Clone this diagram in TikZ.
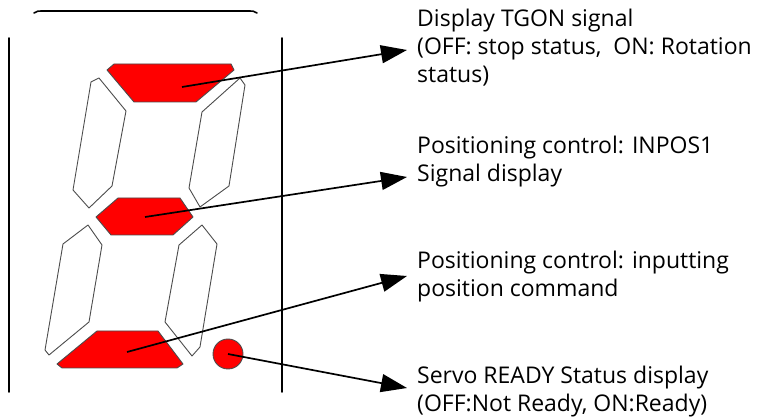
\documentclass[tikz,border=0pt]{standalone}
\usepackage{fontspec}
\setmainfont{Open Sans}
\usetikzlibrary{arrows.meta}
\begin{document}
\begin{tikzpicture}[x=1pt,y=-1pt,
  seg/.style={draw=black!70,line width=0.9pt,line join=round,fill=white},
  lit/.style={draw=black!70,line width=0.9pt,line join=round,fill=red},
  frame/.style={line width=1.6pt,line cap=round},
  pointer/.style={line width=1.7pt,-{Triangle[length=26pt,width=18pt]}},
  label/.style={anchor=base west,inner sep=0pt,align=left,font=\fontsize{23}{28.3}\selectfont}]
\useasboundingbox (0,0) rectangle (766,419);
% frame
\draw[frame] (34,13) .. controls (37,11) .. (46,11) -- (245,11) .. controls (254,11) .. (257,13);
\draw[frame] (9,38) -- (9,392);
\draw[frame] (282,38) -- (282,392);
% segments
\draw[lit] (114,64) -- (231,64) -- (234,70) -- (196,102) -- (134,102) -- (107,70) -- cycle;
\draw[seg] (99,78) -- (126,111) -- (112,186) -- (89,208) -- (73,190) -- (91,82) -- cycle;
\draw[seg] (240,78) -- (245,85) -- (229,186) -- (200,207) -- (189,188) -- (202,112) -- cycle;
\draw[lit] (118,198) -- (180,198) -- (193,217) -- (173,235) -- (111,235) -- (96,217) -- cycle;
\draw[seg] (88,225) -- (102,245) -- (89,322) -- (49,355) -- (45,350) -- (63,244) -- cycle;
\draw[seg] (202,225) -- (217,244) -- (200,347) -- (192,356) -- (165,322) -- (179,245) -- cycle;
\draw[lit] (97,331) -- (158,331) -- (183,364) -- (177,368) -- (62,368) -- (57,364) -- cycle;
\node[circle,draw=black!70,line width=0.9pt,fill=red,minimum size=30pt,inner sep=0pt] (dot) at (228,354) {};
% anchor points
\coordinate (sa) at (182,87);
\coordinate (sg) at (145,217);
\coordinate (sd) at (127,352);
\coordinate (sp) at (228,354);
\coordinate (ta) at (407,50);
\coordinate (tg) at (407,177);
\coordinate (td) at (407,276);
\coordinate (tp) at (407,388);
% labels (base anchor = baseline of last line)
\node[label] (la) at (417,83) {Display TGON signal\\(OFF: stop status,\ \ ON: Rotation\\status)};
\node[label] (lg) at (417,182) {Positioning control: INPOS1\\Signal display};
\node[label] (ld) at (417,296.7) {Positioning control: inputting\\position command};
\node[label] (lp) at (417,412) {Servo READY Status display\\(OFF:Not Ready, ON:Ready)};
% pointers
\draw[pointer] (sa) -- (ta);
\draw[pointer] (sg) -- (tg);
\draw[pointer] (sd) -- (td);
\draw[pointer] (sp) -- (tp);
\end{tikzpicture}
\end{document}
